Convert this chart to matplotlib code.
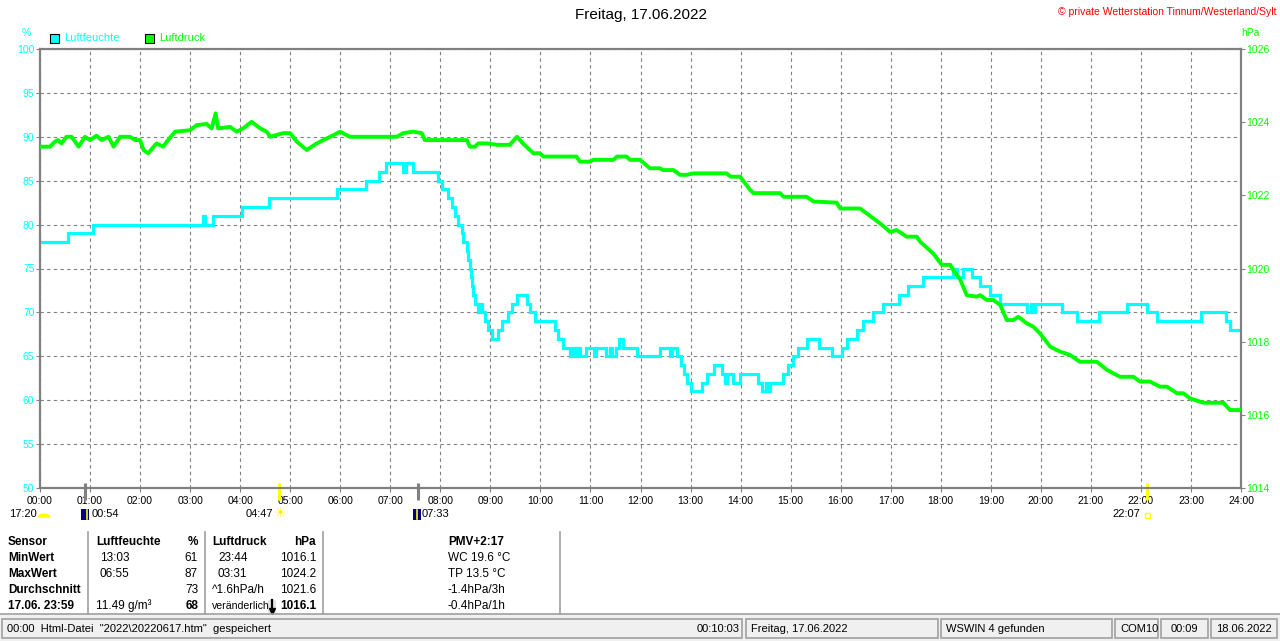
import matplotlib.pyplot as plt
from matplotlib.lines import Line2D
from matplotlib.patches import Rectangle, Wedge

plt.rcParams['font.family'] = ['Liberation Sans', 'DejaVu Sans']

W, H = 1280, 641

# humidity (%) - step changes: time in hours, value holds until next time
hum_time = [0.0, 0.55, 1.05, 3.26, 3.30, 3.45, 4.04, 4.57, 5.94, 6.52,
            6.78, 6.91, 7.26, 7.31, 7.46, 7.96, 8.03, 8.16, 8.23, 8.29,
            8.36, 8.43, 8.46, 8.53, 8.56, 8.59, 8.62, 8.64, 8.66, 8.69,
            8.76, 8.78, 8.83, 8.89, 8.96, 9.03, 9.16, 9.23, 9.36, 9.43,
            9.53, 9.73, 9.79, 9.89, 10.29, 10.36, 10.46, 10.60, 10.65, 10.70,
            10.75, 10.79, 10.92, 11.07, 11.12, 11.32, 11.40, 11.44, 11.52, 11.58,
            11.66, 11.93, 12.38, 12.58, 12.62, 12.72, 12.80, 12.87, 12.93, 13.00,
            13.22, 13.32, 13.46, 13.62, 13.69, 13.72, 13.85, 13.99, 14.35, 14.42,
            14.50, 14.53, 14.59, 14.85, 14.95, 15.05, 15.15, 15.32, 15.57, 15.82,
            16.02, 16.12, 16.32, 16.45, 16.65, 16.85, 17.17, 17.34, 17.64, 18.25,
            18.32, 18.45, 18.62, 18.79, 18.98, 19.19, 19.73, 19.80, 19.82, 19.88,
            20.43, 20.72, 21.16, 21.73, 22.13, 22.33, 23.20, 23.70, 23.78, 23.96]
hum_val = [78, 79, 80, 81, 80, 81, 82, 83, 84, 85,
           86, 87, 86, 87, 86, 85, 84, 83, 82, 81,
           80, 79, 78, 77, 76, 75, 74, 73, 72, 71,
           70, 71, 70, 69, 68, 67, 68, 69, 70, 71,
           72, 71, 70, 69, 68, 67, 66, 65, 66, 65,
           66, 65, 66, 65, 66, 65, 66, 65, 66, 67,
           66, 65, 66, 65, 66, 65, 64, 63, 62, 61,
           62, 63, 64, 63, 62, 63, 62, 63, 62, 61,
           62, 61, 62, 63, 64, 65, 66, 67, 66, 65,
           66, 67, 68, 69, 70, 71, 72, 73, 74, 75,
           74, 75, 74, 73, 72, 71, 70, 71, 70, 71,
           70, 69, 70, 71, 70, 69, 70, 69, 68, 68]

# air pressure (hPa)
pres_time = [0.0, 0.2, 0.3, 0.36, 0.43, 0.53, 0.63, 0.68, 0.77, 0.9,
             1.0, 1.13, 1.23, 1.37, 1.47, 1.6, 1.8, 1.9, 2.0, 2.07,
             2.16, 2.33, 2.46, 2.56, 2.7, 3.0, 3.13, 3.33, 3.43, 3.51,
             3.56, 3.8, 3.93, 4.06, 4.23, 4.4, 4.53, 4.6, 4.86, 5.0,
             5.13, 5.33, 5.53, 5.66, 5.8, 6.0, 6.19, 7.13, 7.26, 7.46,
             7.63, 7.69, 8.53, 8.59, 8.69, 8.76, 8.93, 9.13, 9.39, 9.53,
             9.65, 9.86, 9.99, 10.06, 10.72, 10.79, 10.99, 11.06, 11.46, 11.53,
             11.72, 11.79, 11.99, 12.19, 12.39, 12.45, 12.66, 12.79, 12.92, 13.06,
             13.72, 13.8, 13.99, 14.19, 14.26, 14.79, 14.86, 15.32, 15.46, 15.92,
             15.99, 16.39, 16.79, 16.99, 17.12, 17.32, 17.52, 17.59, 17.85, 18.02,
             18.19, 18.25, 18.39, 18.52, 18.72, 18.79, 18.92, 19.05, 19.19, 19.32,
             19.45, 19.55, 19.72, 19.85, 19.98, 20.19, 20.38, 20.58, 20.78, 21.12,
             21.32, 21.58, 21.85, 21.98, 22.18, 22.38, 22.52, 22.72, 22.85, 22.98,
             23.25, 23.65, 23.78, 23.96]
pres_val = [1023.33, 1023.33, 1023.47, 1023.51, 1023.42, 1023.6, 1023.6, 1023.51, 1023.33, 1023.6,
            1023.51, 1023.63, 1023.51, 1023.6, 1023.33, 1023.6, 1023.6, 1023.51, 1023.51, 1023.24,
            1023.15, 1023.42, 1023.33, 1023.51, 1023.74, 1023.78, 1023.92, 1023.95, 1023.83, 1024.24,
            1023.83, 1023.87, 1023.74, 1023.83, 1024.01, 1023.83, 1023.74, 1023.6, 1023.7, 1023.7,
            1023.47, 1023.24, 1023.42, 1023.51, 1023.6, 1023.74, 1023.6, 1023.6, 1023.7, 1023.74,
            1023.7, 1023.51, 1023.51, 1023.33, 1023.33, 1023.42, 1023.42, 1023.38, 1023.38, 1023.6,
            1023.42, 1023.15, 1023.15, 1023.06, 1023.06, 1022.92, 1022.92, 1022.97, 1022.97, 1023.06,
            1023.06, 1022.97, 1022.97, 1022.74, 1022.74, 1022.69, 1022.69, 1022.56, 1022.56, 1022.6,
            1022.6, 1022.51, 1022.51, 1022.15, 1022.06, 1022.06, 1021.96, 1021.96, 1021.83, 1021.8,
            1021.64, 1021.64, 1021.23, 1021.0, 1021.05, 1020.87, 1020.87, 1020.73, 1020.41, 1020.1,
            1020.1, 1019.96, 1019.69, 1019.27, 1019.23, 1019.27, 1019.14, 1019.14, 1019.0, 1018.59,
            1018.59, 1018.68, 1018.5, 1018.41, 1018.23, 1017.86, 1017.73, 1017.64, 1017.45, 1017.45,
            1017.23, 1017.04, 1017.04, 1016.91, 1016.91, 1016.77, 1016.77, 1016.59, 1016.59, 1016.45,
            1016.33, 1016.33, 1016.13, 1016.13]

hour_labels = ['%02d:00' % h for h in range(25)]
hum_ticks = list(range(50, 101, 5))
pres_ticks = list(range(1014, 1027, 2))

# sun / moon events (hour) marked on the x axis
events = [(0.9, '#808080'), (4.783, '#FFFF00'), (7.55, '#808080'), (22.117, '#FFFF00')]

# table below the chart
table_rows = ['Sensor', 'MinWert', 'MaxWert', 'Durchschnitt', '17.06. 23:59']
hum_col = [('Luftfeuchte', '%'), ('13:03', '61'), ('06:55', '87'), ('', '73'), ('11.49 g/m³', '68')]
pres_col = [('Luftdruck', 'hPa'), ('23:44', '1016.1'), ('03:31', '1024.2'),
            ('^1.6hPa/h', '1021.6'), ('veränderlich', '1016.1')]
pmv_col = ['PMV+2:17', 'WC 19.6 °C', 'TP 13.5 °C', '-1.4hPa/3h', '-0.4hPa/1h']

status_panels = [(2, 742, '00:00  Html-Datei  "2022\\20220617.htm"  gespeichert', '00:10:03'),
                 (746, 938, 'Freitag, 17.06.2022', None),
                 (941, 1112, 'WSWIN 4 gefunden', None),
                 (1115, 1158, 'COM10', None),
                 (1161, 1208, '00:09', None),
                 (1211, 1277, '18.06.2022', None)]

CYAN = '#00FFFF'
GREEN = '#00FF00'
GREY = '#808080'


def fx(x):
    return x / W


def fy(y):
    return 1 - y / H


def txt(x, y, s, **kw):
    kw.setdefault('fontsize', 8.5)
    kw.setdefault('va', 'center')
    fig.text(fx(x), fy(y), s, **kw)


fig = plt.figure(figsize=(W / 100, H / 100), dpi=100, facecolor='white')
ax = fig.add_axes([fx(40), fy(488), fx(1241) - fx(40), fy(49) - fy(488)])
ax.set_facecolor('white')
ax.set_xlim(0, 24)
ax.set_ylim(50, 100)
ax.set_xticks(range(25))
ax.set_xticklabels(hour_labels, fontsize=7.5)
ax.set_yticks(hum_ticks)
ax.set_yticklabels([str(v) for v in hum_ticks], fontsize=7.5, color=CYAN)
ax.tick_params(axis='x', length=3, width=0.75, color=GREY, pad=2.5)
ax.tick_params(axis='y', length=3, width=0.75, color=GREY, pad=1)
ax.grid(True, color=GREY, linestyle=(0, (3, 3)), linewidth=0.8)
for sp in ax.spines.values():
    sp.set_color(GREY)
    sp.set_linewidth(1.6)

ax.plot(hum_time, hum_val, drawstyle='steps-post', color=CYAN, lw=2.3, solid_joinstyle='miter')

ax2 = ax.twinx()
ax2.set_ylim(1014, 1026)
ax2.set_yticks(pres_ticks)
ax2.set_yticklabels([str(v) for v in pres_ticks], fontsize=7.5, color=GREEN)
ax2.tick_params(axis='y', length=3, width=0.75, color=GREY, pad=1)
for sp in ax2.spines.values():
    sp.set_visible(False)
ax2.plot(pres_time, pres_val, color=GREEN, lw=2.8)

# event markers on the time axis
for t, c in events:
    ax.plot([t, t], [50.6, 48.6], color=c, lw=2.2, clip_on=False, solid_capstyle='butt')

# headers
txt(641, 15, 'Freitag, 17.06.2022', fontsize=11, ha='center')
txt(1276, 12, '© private Wetterstation Tinnum/Westerland/Sylt', fontsize=7.5, ha='right', color='#FF0000')
txt(26, 33, '%', fontsize=7.5, ha='center', color=CYAN)
txt(1250, 33, 'hPa', fontsize=7.5, ha='center', color=GREEN)
fig.add_artist(Rectangle((fx(50), fy(43)), fx(9), fx(9) * W / H, transform=fig.transFigure,
                         facecolor=CYAN, edgecolor='black', lw=0.8))
txt(64, 38, 'Luftfeuchte', fontsize=8, color=CYAN)
fig.add_artist(Rectangle((fx(145), fy(43)), fx(9), fx(9) * W / H, transform=fig.transFigure,
                         facecolor=GREEN, edgecolor='black', lw=0.8))
txt(159, 38, 'Luftdruck', fontsize=8, color=GREEN)

# sun and moon times
txt(37, 514, '17:20', fontsize=8, ha='right')
fig.add_artist(Wedge((fx(44), fy(517)), 0.0045, 0, 180, transform=fig.transFigure, color='#FFFF00'))
fig.add_artist(Rectangle((fx(81), fy(520)), fx(8), fx(11) * W / H, transform=fig.transFigure,
                         facecolor='#000080', edgecolor='none'))
fig.add_artist(Line2D([fx(87), fx(87)], [fy(510), fy(519)], transform=fig.transFigure, color='#FFFF00', lw=1.2))
txt(92, 514, '00:54', fontsize=8)
txt(273, 514, '04:47', fontsize=8, ha='right')
txt(281, 514, '☀', fontsize=9, ha='center', color='#FFEE00', family='DejaVu Sans')
fig.add_artist(Rectangle((fx(413), fy(520)), fx(8), fx(11) * W / H, transform=fig.transFigure,
                         facecolor='#000080', edgecolor='none'))
fig.add_artist(Line2D([fx(417), fx(417)], [fy(510), fy(519)], transform=fig.transFigure, color='#FFFF00', lw=1.2))
txt(422, 514, '07:33', fontsize=8)
txt(1140, 514, '22:07', fontsize=8, ha='right')
fig.add_artist(Rectangle((fx(1145), fy(518)), fx(5), fx(5) * W / H, transform=fig.transFigure,
                         facecolor='white', edgecolor='#FFFF00', lw=1))

# table
row_y = [542, 558, 574, 590, 606]
for i, (lab, y) in enumerate(zip(table_rows, row_y)):
    txt(8, y, lab, fontweight='bold')
    left, right = hum_col[i]
    bold = 'bold' if i in (0, 4) else 'normal'
    txt(100 if 0 < i < 4 else 96, y, left, fontweight='bold' if i == 0 else 'normal')
    txt(198, y, right, ha='right', fontweight=bold)
    left, right = pres_col[i]
    size = 7.6 if i == 4 else 8.5
    txt(218 if i in (1, 2) else 212, y, left, fontsize=size, fontweight='bold' if i == 0 else 'normal')
    txt(316, y, right, ha='right', fontweight=bold)
    txt(448, y, pmv_col[i], fontweight='bold' if i == 0 else 'normal')
fig.add_artist(Rectangle((fx(268), fy(613)), fx(8), fx(13) * W / H, transform=fig.transFigure,
                         facecolor='#E4E4E4', edgecolor='none'))
fig.add_artist(Line2D([fx(272), fx(272)], [fy(600), fy(611)], transform=fig.transFigure,
                      color='black', lw=1.6, marker='v', markevery=[1], markersize=4))
for x in (88, 205, 323, 560):
    fig.add_artist(Line2D([fx(x), fx(x)], [fy(532), fy(614)], transform=fig.transFigure, color='#A0A0A0', lw=1.2))

# status bar
fig.add_artist(Rectangle((0, 0), 1, fy(614), transform=fig.transFigure, facecolor='#F0F0F0', edgecolor='none'))
fig.add_artist(Line2D([0, 1], [fy(614), fy(614)], transform=fig.transFigure, color='#A0A0A0', lw=1.2))
for x0, x1, s, rs in status_panels:
    fig.add_artist(Rectangle((fx(x0), fy(638)), fx(x1 - x0), fy(619) - fy(638), transform=fig.transFigure,
                             facecolor='#F0F0F0', edgecolor='#A0A0A0', lw=1.2))
    if x0 > 1160:
        txt((x0 + x1) / 2, 629, s, fontsize=8, ha='center')
    else:
        txt(x0 + 5, 629, s, fontsize=8)
    if rs:
        txt(x1 - 2, 629, rs, fontsize=8, ha='right')

fig.savefig('out.png', dpi=100, facecolor='white')
